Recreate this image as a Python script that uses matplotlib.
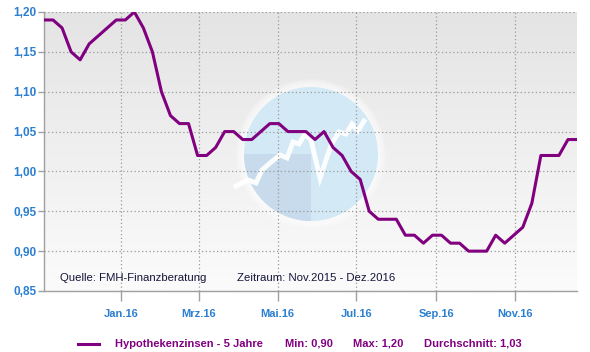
import numpy as np
import pandas as pd
import matplotlib
matplotlib.use("Agg")
import matplotlib.pyplot as plt
from matplotlib.colors import LinearSegmentedColormap
from matplotlib.patches import Circle, Wedge
from matplotlib.ticker import FuncFormatter, MultipleLocator

# ---------------- data ----------------
start_date = "2015-11-02"
rates = [1.19, 1.19, 1.18, 1.15, 1.14, 1.16, 1.17, 1.18, 1.19, 1.19, 1.20,
         1.18, 1.15, 1.10, 1.07, 1.06, 1.06, 1.02, 1.02, 1.03, 1.05, 1.05, 1.04, 1.04,
         1.05, 1.06, 1.06, 1.05, 1.05, 1.05, 1.04, 1.05, 1.03, 1.02, 1.00, 0.99,
         0.95, 0.94, 0.94, 0.94, 0.92, 0.92, 0.91, 0.92, 0.92, 0.91, 0.91, 0.90, 0.90, 0.90,
         0.92, 0.91, 0.92, 0.93, 0.96, 1.02, 1.02, 1.02, 1.04, 1.04]
dates = pd.date_range(start_date, periods=len(rates), freq="7D")
tick_dates = ["2016-01-01", "2016-03-01", "2016-05-01", "2016-07-01", "2016-09-01", "2016-11-01"]
tick_labels = ["Jan.16", "Mrz.16", "Mai.16", "Jul.16", "Sep.16", "Nov.16"]
series_name = "Hypothekenzinsen - 5 Jahre"
min_text = "Min: 0,90"
max_text = "Max: 1,20"
avg_text = "Durchschnitt: 1,03"
source_text = "Quelle: FMH-Finanzberatung"
period_text = "Zeitraum: Nov.2015 - Dez.2016"

# ---------------- style ----------------
W, H = 590, 352
plt.rcParams['font.family'] = ['Liberation Sans', 'DejaVu Sans']
purple = "#800080"
blue = "#2a7fd0"
grid_c = "#9a9a9a"

fig = plt.figure(figsize=(W / 100, H / 100), dpi=100)
L, R, T, B = 44, 577, 12, 291
pos = [L / W, 1 - B / H, (R - L) / W, (B - T) / H]

# background axes (pixel coordinates)
bg = fig.add_axes(pos, zorder=0)
bg.set_xlim(L, R)
bg.set_ylim(B, T)
bg.axis("off")
grad = np.linspace(0, 1, 256).reshape(-1, 1)
cmap = LinearSegmentedColormap.from_list("bg", ["#e4e4e4", "#fbfbfb"])
bg.imshow(grad, cmap=cmap, extent=[L, R, B, T], aspect="auto", zorder=0)

# watermark logo with soft glow
cx, cy, rr = 311, 154, 67
for k in range(8, 0, -1):
    bg.add_patch(Circle((cx, cy), rr + k, color="white", alpha=0.16, zorder=1, lw=0))
bg.add_patch(Circle((cx, cy), rr, color="#d3e9f5", zorder=2, lw=0))
bg.add_patch(Wedge((cx, cy), rr, 90, 180, color="#c7dbec", zorder=3, lw=0))
zz_x = [236, 248, 256, 262, 270, 280, 287, 293, 299, 305, 311, 320, 331, 339, 346, 352, 358, 364]
zz_y = [186, 180, 183, 170, 163, 155, 158, 142, 144, 134, 140, 178, 145, 132, 134, 124, 131, 121]
bg.plot(zz_x, zz_y, color="white", lw=3.5, alpha=0.95, zorder=4, solid_joinstyle="miter")

# main axes
ax = fig.add_axes(pos, zorder=1)
ax.patch.set_alpha(0)
ax.plot(dates, rates, color=purple, lw=2.2, zorder=5, solid_joinstyle="round")
ax.set_xlim(dates[0], dates[-1])
ax.set_ylim(0.85, 1.20)
ax.yaxis.set_major_locator(MultipleLocator(0.05))
ax.yaxis.set_major_formatter(FuncFormatter(lambda v, p: f"{v:.2f}".replace(".", ",")))
ax.set_xticks(pd.to_datetime(tick_dates))
ax.set_xticklabels(tick_labels)

for s in ["top", "right"]:
    ax.spines[s].set_visible(False)
for s in ["left", "bottom"]:
    ax.spines[s].set_color("#a0a0a0")
    ax.spines[s].set_linewidth(1.0)

ax.grid(True, color=grid_c, linestyle=(0, (1, 2)), linewidth=0.9, zorder=1)
ax.tick_params(axis="y", length=4.5, width=1, color="#a0a0a0", pad=1,
               labelcolor=blue, labelsize=8.5)
ax.tick_params(axis="x", length=7, width=1, color="#a0a0a0", pad=6,
               labelcolor=blue, labelsize=8)
for lab in ax.get_xticklabels() + ax.get_yticklabels():
    lab.set_fontweight("bold")

# annotations in the plot
def px(x, y):
    return x / W, 1 - y / H

fig.text(*px(60, 278), source_text, fontsize=8.2, color="#15153a", va="center", ha="left", zorder=10)
fig.text(*px(237, 278), period_text, fontsize=8.2, color="#15153a", va="center", ha="left", zorder=10)

# legend
ly = 344
fig.add_artist(plt.Line2D([77.6 / W, 99 / W], [1 - ly / H, 1 - ly / H], color=purple, lw=2.2))
fig.text(*px(115, ly), series_name, fontsize=8, fontweight="bold", color=purple, va="center")
fig.text(*px(285, ly), min_text, fontsize=8, fontweight="bold", color=purple, va="center")
fig.text(*px(353, ly), max_text, fontsize=8, fontweight="bold", color=purple, va="center")
fig.text(*px(424, ly), avg_text, fontsize=8, fontweight="bold", color=purple, va="center")

fig.savefig("out.png", dpi=100, facecolor="white")
